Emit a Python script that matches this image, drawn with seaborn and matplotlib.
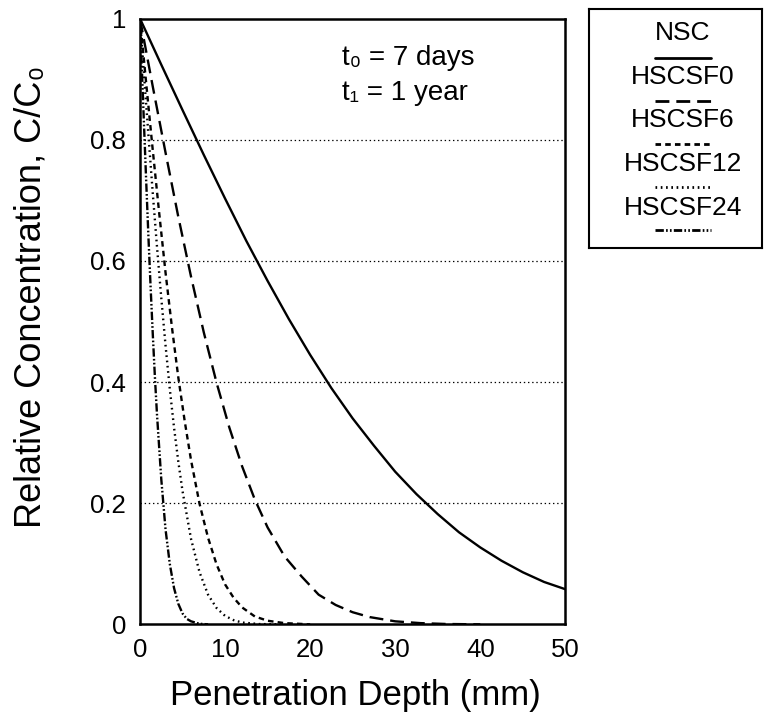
import pandas as pd
import matplotlib
matplotlib.use("Agg")
import matplotlib.pyplot as plt
import seaborn as sns

# Curves: depth (mm) and relative concentration C/C0
nsc_x = [0, 2.5, 5, 7.5, 10, 12.5, 15, 17.5, 20, 22.5, 25, 27.5, 30, 32.5, 35, 37.5, 40, 42.5, 45, 47.5, 50]
nsc_y = [1.0, 0.924, 0.849, 0.775, 0.703, 0.633, 0.567, 0.504, 0.445, 0.390, 0.340, 0.295, 0.252, 0.215,
         0.182, 0.152, 0.127, 0.105, 0.086, 0.070, 0.058]

f0_x = [0, 1.5, 3, 4.5, 6, 7.5, 9, 10.5, 12, 13.5, 15, 17, 19, 21, 23, 25, 27, 30, 33, 36, 40]
f0_y = [1.0, 0.888, 0.779, 0.673, 0.574, 0.482, 0.399, 0.325, 0.261, 0.206, 0.160, 0.112, 0.079, 0.049,
        0.032, 0.020, 0.012, 0.005, 0.002, 0.0006, 0.0]

f6_x = [0, 0.75, 1.5, 2.25, 3, 3.75, 4.5, 5.25, 6, 7, 8, 9, 10, 11, 12, 13.5, 15, 17, 20]
f6_y = [1.0, 0.890, 0.783, 0.680, 0.581, 0.491, 0.408, 0.336, 0.271, 0.199, 0.143, 0.099, 0.066, 0.044,
        0.028, 0.013, 0.006, 0.002, 0.0]

f12_x = [0, 0.5, 1, 1.5, 2, 2.5, 3, 3.5, 4, 4.5, 5, 6, 7, 8, 9, 10, 11, 12, 14, 17]
f12_y = [1.0, 0.902, 0.806, 0.712, 0.623, 0.539, 0.461, 0.389, 0.325, 0.269, 0.220, 0.141, 0.086, 0.049,
         0.027, 0.014, 0.007, 0.003, 0.0005, 0.0]

f24_x = [0, 0.25, 0.5, 0.75, 1, 1.25, 1.5, 1.75, 2, 2.5, 3, 3.5, 4, 4.5, 5, 5.5, 6, 7, 8]
f24_y = [1.0, 0.906, 0.814, 0.724, 0.637, 0.556, 0.480, 0.409, 0.346, 0.240, 0.157, 0.100, 0.060, 0.034,
         0.018, 0.009, 0.005, 0.001, 0.0]

series_names = ["NSC", "HSCSF0", "HSCSF6", "HSCSF12", "HSCSF24"]
x_ticks = [0, 10, 20, 30, 40, 50]
y_ticks = [0, 0.2, 0.4, 0.6, 0.8, 1.0]
y_tick_labels = ["0", "0.2", "0.4", "0.6", "0.8", "1"]
note_lines = ["t\u2080 = 7 days", "t\u2081 = 1 year"]

# Long-form table for seaborn
frames = []
for name, xs, ys in zip(series_names, [nsc_x, f0_x, f6_x, f12_x, f24_x], [nsc_y, f0_y, f6_y, f12_y, f24_y]):
    frames.append(pd.DataFrame({"depth": xs, "conc": ys, "series": name}))
df = pd.concat(frames, ignore_index=True)

sns.set_style("white")
plt.rcParams["font.family"] = ["Liberation Sans", "DejaVu Sans"]
plt.rcParams["lines.scale_dashes"] = False
plt.rcParams["text.color"] = "black"
plt.rcParams["axes.labelcolor"] = "black"

dash_styles = {
    "NSC": "",
    "HSCSF0": (10, 5),
    "HSCSF6": (4, 3),
    "HSCSF12": (1.2, 2.6),
    "HSCSF24": (6, 1.6, 1.2, 1.6, 1.2, 1.6),
}
palette = {name: "black" for name in series_names}

fig = plt.figure(figsize=(7.65, 7.16), dpi=100)
ax = fig.add_axes([0.183, 0.128, 0.556, 0.846])

sns.lineplot(data=df, x="depth", y="conc", hue="series", style="series", hue_order=series_names,
             style_order=series_names, palette=palette, dashes=dash_styles, estimator=None,
             sort=False, linewidth=1.7, legend=False, ax=ax)

ax.set_xlim(0, 50)
ax.set_ylim(0, 1)
ax.set_xticks(x_ticks)
ax.set_xticklabels([str(t) for t in x_ticks])
ax.set_yticks(y_ticks)
ax.set_yticklabels(y_tick_labels)
ax.set_yticks([0.1, 0.3, 0.5, 0.7, 0.9], minor=True)

for yv in y_ticks[1:-1]:
    ax.axhline(yv, color="black", linewidth=0.9, linestyle=(0, (1, 2)), zorder=0)

for side in ["left", "right", "top", "bottom"]:
    ax.spines[side].set_linewidth(1.8)
    ax.spines[side].set_color("black")

ax.tick_params(axis="both", which="both", direction="in", colors="black", labelsize=18.5)
ax.tick_params(axis="x", which="major", length=10, width=1.2, pad=10)
ax.tick_params(axis="y", which="major", length=7, width=1.2, pad=10)
ax.tick_params(axis="y", which="minor", length=4, width=1.0)

ax.set_xlabel("Penetration Depth (mm)", fontsize=25, va="center", color="black")
ax.set_ylabel("Relative Concentration, C/C\u2080", fontsize=26, va="center", color="black")
ax.xaxis.set_label_coords(0.506, -0.118)
ax.yaxis.set_label_coords(-0.257, 0.54)

ax.text(23.8, 0.923, note_lines[0], fontsize=20, va="baseline", ha="left", color="black")
ax.text(23.8, 0.866, note_lines[1], fontsize=20, va="baseline", ha="left", color="black")

# Legend box: label with its line sample underneath
lax = fig.add_axes([589 / 765, 1 - 248 / 716, 173 / 765, 239 / 716])
lax.set_xlim(0, 1)
lax.set_ylim(0, 1)
lax.set_xticks([])
lax.set_yticks([])
for side in ["left", "right", "top", "bottom"]:
    lax.spines[side].set_linewidth(1.5)
    lax.spines[side].set_color("black")
for i, name in enumerate(series_names):
    ty = 0.90 - i * 0.183
    ly = 0.795 - i * 0.18
    lax.text(0.543, ty, name, fontsize=19, ha="center", va="center", color="black")
    ls = "-" if dash_styles[name] == "" else (0, dash_styles[name])
    lax.plot([0.38, 0.705], [ly, ly], color="black", linewidth=2.0, linestyle=ls)

fig.savefig("out.png", dpi=100)
